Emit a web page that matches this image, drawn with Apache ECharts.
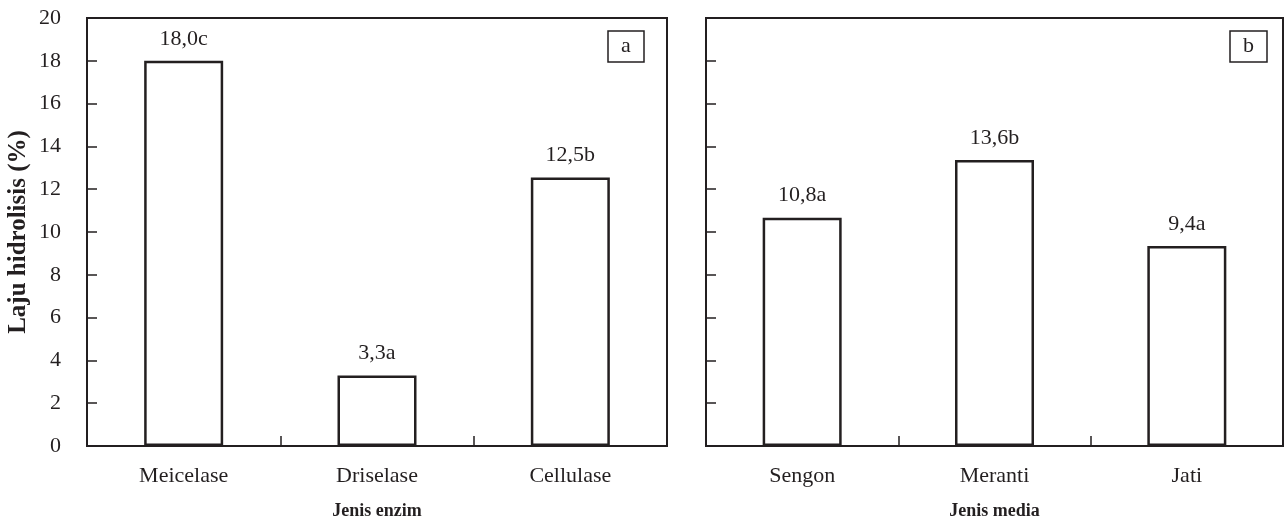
<!DOCTYPE html>
<html>
<head>
<meta charset="utf-8">
<script src="https://cdn.jsdelivr.net/npm/echarts@6/dist/echarts.min.js"></script>
<style>
html,body{margin:0;padding:0;background:#fff;}
#chart{width:1286px;height:525px;}
</style>
</head>
<body>
<div id="chart"></div>
<script>
const enzimCategories = ['Meicelase', 'Driselase', 'Cellulase'];
const enzimValues = [18.0, 3.3, 12.55];
const enzimLabels = ['18,0c', '3,3a', '12,5b'];

const mediaCategories = ['Sengon', 'Meranti', 'Jati'];
const mediaValues = [10.67, 13.37, 9.34];
const mediaLabels = ['10,8a', '13,6b', '9,4a'];

const yTicks = [0, 2, 4, 6, 8, 10, 12, 14, 16, 18, 20];

const INK = '#231f20';
const FONT = '"Liberation Serif", "Times New Roman", serif';

const chart = echarts.init(document.getElementById('chart'), null, {renderer: 'canvas'});

function xAxis(gridIndex, data, name) {
  return {
    type: 'category', gridIndex, data, name,
    nameLocation: 'middle', nameGap: 56,
    nameTextStyle: {fontFamily: FONT, fontSize: 18, fontWeight: 'bold', color: INK},
    axisLine: {show: true, lineStyle: {color: INK, width: 2}},
    axisTick: {show: true, inside: true, length: 10, lineStyle: {color: INK, width: 1.5}},
    axisLabel: {fontFamily: FONT, fontSize: 22, color: INK, margin: 19},
    splitLine: {show: false}
  };
}
function yAxis(gridIndex, showLabels, name) {
  return {
    type: 'value', gridIndex, min: yTicks[0], max: yTicks[yTicks.length - 1], interval: 2,
    name: name || '', nameLocation: 'middle', nameGap: 56,
    nameTextStyle: {fontFamily: FONT, fontSize: 25, fontWeight: 'bold', color: INK},
    axisLine: {show: true, lineStyle: {color: INK, width: 2}},
    axisTick: {show: true, inside: true, length: 10, lineStyle: {color: INK, width: 1.5}},
    axisLabel: {show: showLabels, fontFamily: FONT, fontSize: 22, color: INK, margin: 26},
    splitLine: {show: false}
  };
}
function barSeries(idx, values, labels) {
  return {
    type: 'bar', xAxisIndex: idx, yAxisIndex: idx, data: values, barWidth: 79,
    itemStyle: {color: '#fff', borderColor: INK, borderWidth: 2.5},
    label: {
      show: true, position: 'top', distance: 11,
      fontFamily: FONT, fontSize: 22, color: INK,
      formatter: p => labels[p.dataIndex]
    },
    silent: true
  };
}
function boxTitle(text, left) {
  return {
    text, left, top: 31,
    padding: [4, 13],
    borderColor: INK, borderWidth: 1.5,
    textStyle: {fontFamily: FONT, fontSize: 22, fontWeight: 'normal', color: INK, lineHeight: 23}
  };
}

chart.setOption({
  animation: false,
  backgroundColor: '#fff',
  title: [boxTitle('a', 608), boxTitle('b', 1230)],
  grid: [
    {left: 87, top: 18, right: 619, bottom: 74, show: true, borderColor: INK, borderWidth: 2},
    {left: 706, top: 18, right: 3, bottom: 74, show: true, borderColor: INK, borderWidth: 2}
  ],
  xAxis: [xAxis(0, enzimCategories, 'Jenis enzim'), xAxis(1, mediaCategories, 'Jenis media')],
  yAxis: [yAxis(0, true, 'Laju hidrolisis (%)'), yAxis(1, false)],
  series: [barSeries(0, enzimValues, enzimLabels), barSeries(1, mediaValues, mediaLabels)]
});
</script>
</body>
</html>
